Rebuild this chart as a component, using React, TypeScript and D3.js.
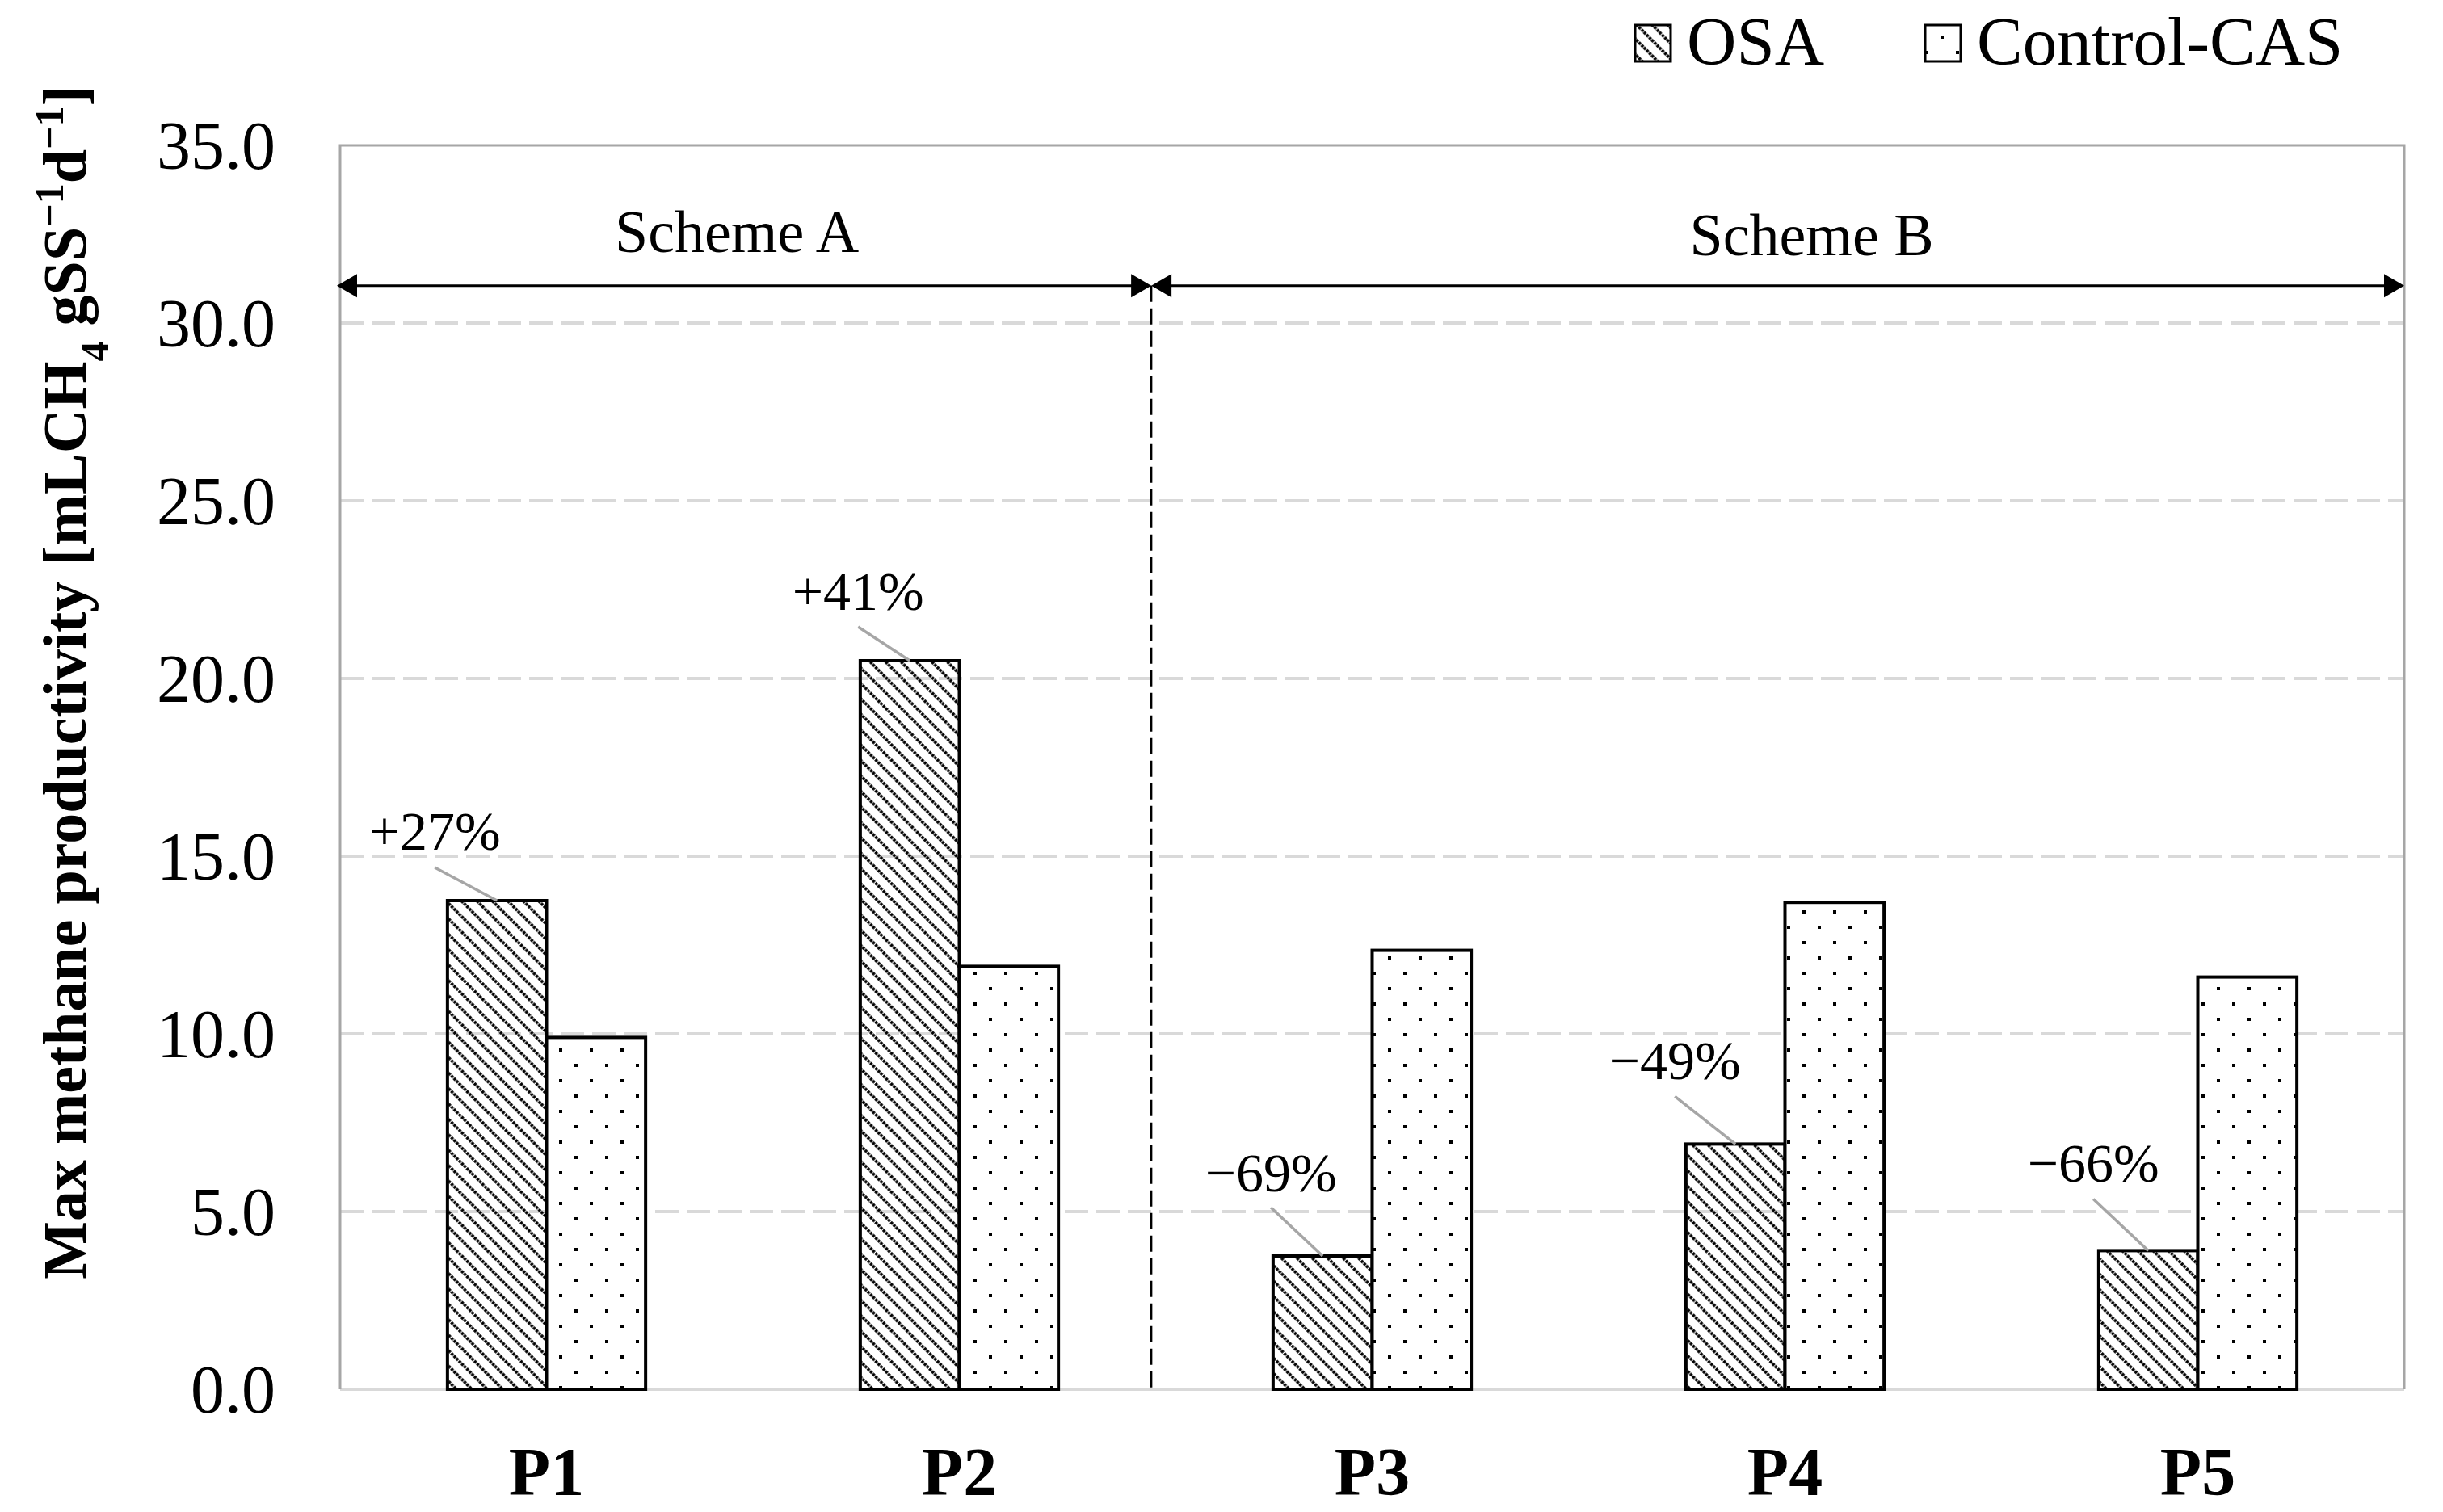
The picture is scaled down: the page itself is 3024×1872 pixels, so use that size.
import { useEffect, useRef } from "react";
import * as d3 from "d3";

// chart data
const periods = ["P1", "P2", "P3", "P4", "P5"];
const seriesNames = ["OSA", "Control-CAS"];
const osaValues = [13.75, 20.5, 3.75, 6.9, 3.9];
const controlValues = [9.9, 11.9, 12.35, 13.7, 11.6];
const changeLabels = ["+27%", "+41%", "\u221269%", "\u221249%", "\u221266%"];
const yTicks = [0, 5, 10, 15, 20, 25, 30, 35];
const schemeNames = ["Scheme A", "Scheme B"];
const schemeArrowValue = 31.05;

// layout of the change labels, relative to the top of each OSA bar (px)
const labelLayout = [
  { dx: -77, dy: -63, lead: -41 },
  { dx: -64, dy: -63, lead: -42 },
  { dx: -64, dy: -80, lead: -60 },
  { dx: -75, dy: -80, lead: -59 },
  { dx: -68, dy: -85, lead: -64 },
];

const W = 3024;
const H = 1872;
const FONT = "'Liberation Serif', 'Times New Roman', serif";

export default function App() {
  const svgRef = useRef<SVGSVGElement>(null);

  useEffect(() => {
    if (!svgRef.current) return;
    const svg = d3.select(svgRef.current);
    svg.selectAll("*").remove();

    const margin = { top: 180, right: 48, bottom: 152, left: 421 };
    const x0 = margin.left;
    const x1 = W - margin.right;
    const yTop = margin.top;
    const yBot = H - margin.bottom;

    const x = d3.scaleBand<string>().domain(periods).range([x0, x1]).padding(0);
    const bw = x.bandwidth();
    const groupW = bw * 0.48;
    const xInner = d3.scaleBand<string>().domain(seriesNames).range([0, groupW]);
    const y = d3.scaleLinear().domain([0, 35]).range([yBot, yTop]);

    // patterns
    const defs = svg.append("defs");
    const hatch = defs
      .append("pattern")
      .attr("id", "hatch")
      .attr("patternUnits", "userSpaceOnUse")
      .attr("width", 13.5)
      .attr("height", 13.5)
      .attr("patternTransform", "rotate(-45)");
    hatch
      .append("line")
      .attr("x1", 6.75)
      .attr("x2", 6.75)
      .attr("y1", 0)
      .attr("y2", 13.5)
      .attr("stroke", "#000")
      .attr("stroke-width", 3.6)
      .attr("stroke-dasharray", "3.4 1.1");

    const dots = defs
      .append("pattern")
      .attr("id", "dots")
      .attr("patternUnits", "userSpaceOnUse")
      .attr("width", 38)
      .attr("height", 38);
    dots.append("rect").attr("width", 38).attr("height", 38).attr("fill", "#fff");
    dots.append("rect").attr("x", 8).attr("y", 6).attr("width", 4).attr("height", 4).attr("fill", "#000");
    dots.append("rect").attr("x", 27).attr("y", 25).attr("width", 4).attr("height", 4).attr("fill", "#000");

    // gridlines
    svg
      .append("g")
      .selectAll("line")
      .data(yTicks.filter((t) => t > 0 && t < 35))
      .enter()
      .append("line")
      .attr("x1", x0)
      .attr("x2", x1)
      .attr("y1", (d) => y(d))
      .attr("y2", (d) => y(d))
      .attr("stroke", "#d9d9d9")
      .attr("stroke-width", 4)
      .attr("stroke-dasharray", "29 10");

    // plot frame
    svg
      .append("line")
      .attr("x1", x0)
      .attr("x2", x1)
      .attr("y1", yBot)
      .attr("y2", yBot)
      .attr("stroke", "#d9d9d9")
      .attr("stroke-width", 4);
    svg
      .append("path")
      .attr("d", `M${x0},${yBot}V${yTop}H${x1}V${yBot}`)
      .attr("fill", "none")
      .attr("stroke", "#a6a6a6")
      .attr("stroke-width", 3);

    // y tick labels
    svg
      .append("g")
      .selectAll("text")
      .data(yTicks)
      .enter()
      .append("text")
      .attr("x", x0 - 80)
      .attr("y", (d) => y(d))
      .attr("dy", "0.35em")
      .attr("text-anchor", "end")
      .style("font-family", FONT)
      .style("font-size", "84px")
      .text((d) => d.toFixed(1));

    // x labels
    svg
      .append("g")
      .selectAll("text")
      .data(periods)
      .enter()
      .append("text")
      .attr("x", (d) => x(d)! + bw / 2)
      .attr("y", 1851)
      .attr("text-anchor", "middle")
      .style("font-family", FONT)
      .style("font-size", "84px")
      .style("font-weight", "bold")
      .text((d) => d);

    // bars
    const series = [
      { name: "OSA", values: osaValues, fill: "url(#hatch)" },
      { name: "Control-CAS", values: controlValues, fill: "url(#dots)" },
    ];
    series.forEach((s) => {
      svg
        .append("g")
        .selectAll("rect")
        .data(periods)
        .enter()
        .append("rect")
        .attr("x", (p) => x(p)! + (bw - groupW) / 2 + xInner(s.name)!)
        .attr("y", (_, i) => y(s.values[i]))
        .attr("width", xInner.bandwidth())
        .attr("height", (_, i) => yBot - y(s.values[i]))
        .attr("fill", s.fill)
        .attr("stroke", "#000")
        .attr("stroke-width", 4);
    });

    // change labels with leader lines
    periods.forEach((p, i) => {
      const cx = x(p)! + (bw - groupW) / 2 + xInner("OSA")! + xInner.bandwidth() / 2;
      const top = y(osaValues[i]);
      const l = labelLayout[i];
      svg
        .append("line")
        .attr("x1", cx + l.dx)
        .attr("y1", top + l.lead)
        .attr("x2", cx)
        .attr("y2", top)
        .attr("stroke", "#a6a6a6")
        .attr("stroke-width", 3.5);
      svg
        .append("text")
        .attr("x", cx + l.dx)
        .attr("y", top + l.dy)
        .attr("text-anchor", "middle")
        .style("font-family", FONT)
        .style("font-size", "68px")
        .text(changeLabels[i]);
    });

    // scheme divider and arrows
    const divX = x("P3")! - bw * 0.035;
    const arrowY = y(schemeArrowValue);
    svg
      .append("line")
      .attr("x1", divX)
      .attr("x2", divX)
      .attr("y1", arrowY)
      .attr("y2", yBot)
      .attr("stroke", "#000")
      .attr("stroke-width", 2.5)
      .attr("stroke-dasharray", "20 8");

    const head = (tipX: number, dir: number) =>
      `M${tipX},${arrowY}L${tipX - dir * 25},${arrowY - 14.5}L${tipX - dir * 25},${arrowY + 14.5}Z`;
    const spans = [
      [x0 - 4, divX],
      [divX, x1],
    ];
    const schemeShift = [-9, 42];
    spans.forEach(([a, b], i) => {
      svg
        .append("line")
        .attr("x1", a + 10)
        .attr("x2", b - 10)
        .attr("y1", arrowY)
        .attr("y2", arrowY)
        .attr("stroke", "#000")
        .attr("stroke-width", 3);
      svg.append("path").attr("d", head(a, -1)).attr("fill", "#000");
      svg.append("path").attr("d", head(b, 1)).attr("fill", "#000");
      svg
        .append("text")
        .attr("x", (a + b) / 2 + schemeShift[i])
        .attr("y", arrowY - 42 + i * 4)
        .attr("text-anchor", "middle")
        .style("font-family", FONT)
        .style("font-size", "74px")
        .text(schemeNames[i]);
    });

    // y axis title
    const title = svg
      .append("text")
      .attr("transform", `translate(106,845) rotate(-90)`)
      .attr("text-anchor", "middle")
      .style("font-family", FONT)
      .style("font-size", "76px")
      .style("font-weight", "bold");
    title.append("tspan").text("Max methane productivity [mLCH");
    title.append("tspan").attr("baseline-shift", "sub").style("font-size", "50px").text("4");
    title.append("tspan").text(" gSS");
    title.append("tspan").attr("baseline-shift", "super").style("font-size", "50px").text("\u22121");
    title.append("tspan").text("d");
    title.append("tspan").attr("baseline-shift", "super").style("font-size", "50px").text("\u22121");
    title.append("tspan").text("]");

    // legend
    const legendItems = [
      { name: "OSA", fill: "url(#hatch)", x: 2024 },
      { name: "Control-CAS", fill: "url(#dots)", x: 2383 },
    ];
    legendItems.forEach((it) => {
      svg
        .append("rect")
        .attr("x", it.x)
        .attr("y", 31)
        .attr("width", 44)
        .attr("height", 45)
        .attr("fill", it.fill)
        .attr("stroke", "#000")
        .attr("stroke-width", 3);
      svg
        .append("text")
        .attr("x", it.x + 64)
        .attr("y", 80)
        .style("font-family", FONT)
        .style("font-size", "85px")
        .text(it.name);
    });
  }, []);

  return (
    <div>
      <style>{`body{margin:0}`}</style>
      <svg ref={svgRef} width={W} height={H} style={{ display: "block", background: "#fff" }}></svg>
    </div>
  );
}
